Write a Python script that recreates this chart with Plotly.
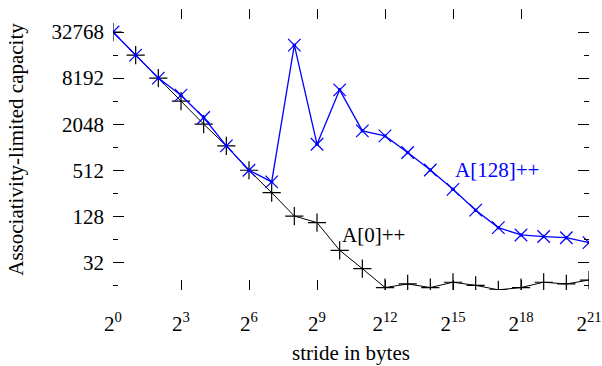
import plotly.graph_objects as go

# stride in bytes (2^0 .. 2^21)
strides = [1, 2, 4, 8, 16, 32, 64, 128, 256, 512, 1024, 2048, 4096, 8192,
           16384, 32768, 65536, 131072, 262144, 524288, 1048576, 2097152]

# A[0]++ associativity-limited capacity
a0_capacity = [32768, 16384, 8192, 4096, 2048, 1067, 512, 261, 129, 106, 46, 26.5,
               15.0, 16.7, 15.0, 17.6, 16.0, 14.0, 15.0, 17.6, 16.7, 18.8]

# A[128]++ associativity-limited capacity
a128_capacity = [32768, 16384, 8192, 4900, 2500, 1067, 512, 360, 22070, 1120, 5750, 1675,
                 1438, 873, 515, 288, 154, 91, 73, 69.6, 67.2, 58]

x_tick_vals = [1, 8, 64, 512, 4096, 32768, 262144, 2097152]
x_tick_text = ["2<sup>0</sup>", "2<sup>3</sup>", "2<sup>6</sup>", "2<sup>9</sup>",
               "2<sup>12</sup>", "2<sup>15</sup>", "2<sup>18</sup>", "2<sup>21</sup>"]
y_tick_vals = [32, 128, 512, 2048, 8192, 32768]
y_tick_text = ["32", "128", "512", "2048", "8192", "32768"]
y_minor_vals = [16, 64, 256, 1024, 4096, 16384, 65536]

FONT = "Liberation Serif"
FS = 21
BLUE = "#0000ff"

fig = go.Figure()
fig.add_trace(go.Scatter(
    x=strides, y=a0_capacity, mode="lines+markers", name="A[0]++",
    line=dict(color="black", width=1),
    marker=dict(symbol="cross-thin-open", size=13, color="black",
                line=dict(color="black", width=1.2)),
))
fig.add_trace(go.Scatter(
    x=strides, y=a128_capacity, mode="lines+markers", name="A[128]++",
    line=dict(color=BLUE, width=1.3),
    marker=dict(symbol="x-thin-open", size=12.5, color=BLUE,
                line=dict(color=BLUE, width=1.2)),
))
fig.add_trace(go.Scatter(
    x=strides, y=a128_capacity, mode="markers", showlegend=False,
    marker=dict(symbol="circle", size=3.5, color=BLUE),
))

fig.add_annotation(x=15 * 0.30103, y=9 * 0.30103, text="A[128]++", showarrow=False,
                   xanchor="left", yanchor="middle", font=dict(family=FONT, size=FS, color=BLUE))
fig.add_annotation(x=10 * 0.30103, y=6.2 * 0.30103, text="A[0]++", showarrow=False,
                   xanchor="left", yanchor="middle", font=dict(family=FONT, size=FS, color="black"))

fig.update_layout(
    template="none",
    width=602, height=366,
    margin=dict(l=113, r=13, t=9, b=76, pad=0),
    paper_bgcolor="white", plot_bgcolor="white",
    showlegend=False,
    font=dict(family=FONT, size=FS, color="black"),
)
fig.update_xaxes(
    type="log", range=[0, 21 * 0.30103], automargin=False,
    tickmode="array", tickvals=x_tick_vals, ticktext=x_tick_text,
    ticks="inside", ticklen=10, tickwidth=1, tickcolor="black",
    mirror="ticks", showline=False, showgrid=False, zeroline=False,
    ticklabelstandoff=19,
    title=dict(text="stride in bytes", standoff=10, font=dict(family=FONT, size=FS)),
    tickfont=dict(family=FONT, size=FS),
)
fig.update_yaxes(
    type="log", range=[3.8 * 0.30103, 16 * 0.30103], automargin=False,
    tickmode="array", tickvals=y_tick_vals, ticktext=y_tick_text,
    ticks="inside", ticklen=11, tickwidth=1, tickcolor="black",
    minor=dict(tickmode="array", tickvals=y_minor_vals, ticks="inside", ticklen=5,
               tickwidth=1, tickcolor="black", showgrid=False),
    mirror="ticks", showline=False, showgrid=False, zeroline=False,
    ticklabelstandoff=8,
    title=dict(text="Associativity-limited capacity", standoff=22, font=dict(family=FONT, size=FS)),
    tickfont=dict(family=FONT, size=FS),
)

fig.write_html("out.html")
